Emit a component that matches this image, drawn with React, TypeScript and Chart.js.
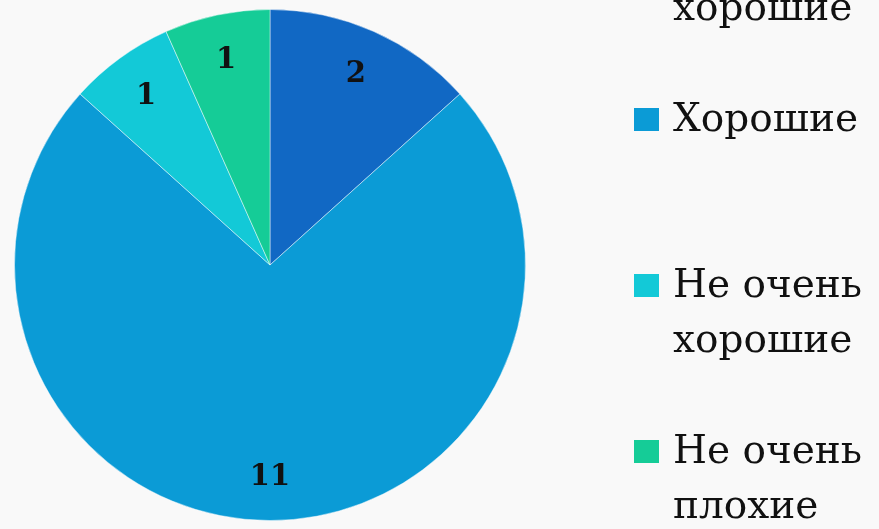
import React, { useEffect, useRef } from "react";
import { Chart, registerables } from "chart.js";

Chart.register(...registerables);

const categories = ["Очень хорошие", "Хорошие", "Не очень хорошие", "Не очень плохие"];
const values = [2, 11, 1, 1];
const colors = ["#1168c4", "#0b9bd6", "#13c9d7", "#15cc97"];

const LEGEND_FONT = "39px 'DejaVu Serif'";
const LABEL_FONT = "bold 29px 'DejaVu Serif'";

function wrap(ctx: CanvasRenderingContext2D, text: string, maxW: number): string[] {
  const words = text.split(" ");
  const lines: string[] = [];
  let cur = "";
  for (const w of words) {
    const test = cur ? cur + " " + w : w;
    if (cur && ctx.measureText(test).width > maxW) {
      lines.push(cur);
      cur = w;
    } else {
      cur = test;
    }
  }
  if (cur) lines.push(cur);
  return lines;
}

const customPlugin = {
  id: "customDraw",
  afterDatasetsDraw(chart: any) {
    const ctx: CanvasRenderingContext2D = chart.ctx;
    const meta = chart.getDatasetMeta(0);
    ctx.save();
    // value labels
    ctx.font = LABEL_FONT;
    ctx.fillStyle = "#111";
    ctx.textAlign = "center";
    ctx.textBaseline = "middle";
    meta.data.forEach((arc: any, i: number) => {
      const { x, y, startAngle, endAngle, outerRadius } = arc.getProps(
        ["x", "y", "startAngle", "endAngle", "outerRadius"],
        true
      );
      const mid = (startAngle + endAngle) / 2;
      const r = outerRadius * 0.825;
      ctx.fillText(String(values[i]), x + Math.cos(mid) * r, y + Math.sin(mid) * r + 2);
    });
    // legend
    ctx.font = LEGEND_FONT;
    ctx.textAlign = "left";
    ctx.textBaseline = "alphabetic";
    const textX = 673;
    const boxX = 634;
    const slot = 166;
    const firstBaseline = -35;
    const lineH = 55;
    categories.forEach((c, i) => {
      const base = firstBaseline + i * slot;
      ctx.fillStyle = colors[i];
      ctx.fillRect(boxX, base - 23, 25, 23);
      ctx.fillStyle = "#111";
      const lines = wrap(ctx, c, 200);
      lines.forEach((ln, j) => ctx.fillText(ln, textX, base + j * lineH));
    });
    ctx.restore();
  },
};

export default function App() {
  const ref = useRef<HTMLCanvasElement>(null);
  useEffect(() => {
    document.body.style.margin = "0";
    document.body.style.background = "#f9f9f9";
    const chart = new Chart(ref.current as HTMLCanvasElement, {
      type: "pie",
      data: {
        labels: categories,
        datasets: [
          {
            data: values,
            backgroundColor: colors,
            borderColor: "rgba(255,255,255,0.45)",
            borderWidth: 1,
          },
        ],
      },
      options: {
        responsive: false,
        animation: false,
        layout: { padding: { left: 14, right: 353, top: 9, bottom: 8 } },
        plugins: {
          legend: { display: false },
          tooltip: { enabled: false },
        },
      },
      plugins: [customPlugin],
    });
    return () => chart.destroy();
  }, []);
  return (
    <div style={{ position: "absolute", left: 0, top: 0, width: 879, height: 529, background: "#f9f9f9" }}>
      <canvas ref={ref} width={879} height={529} />
    </div>
  );
}
